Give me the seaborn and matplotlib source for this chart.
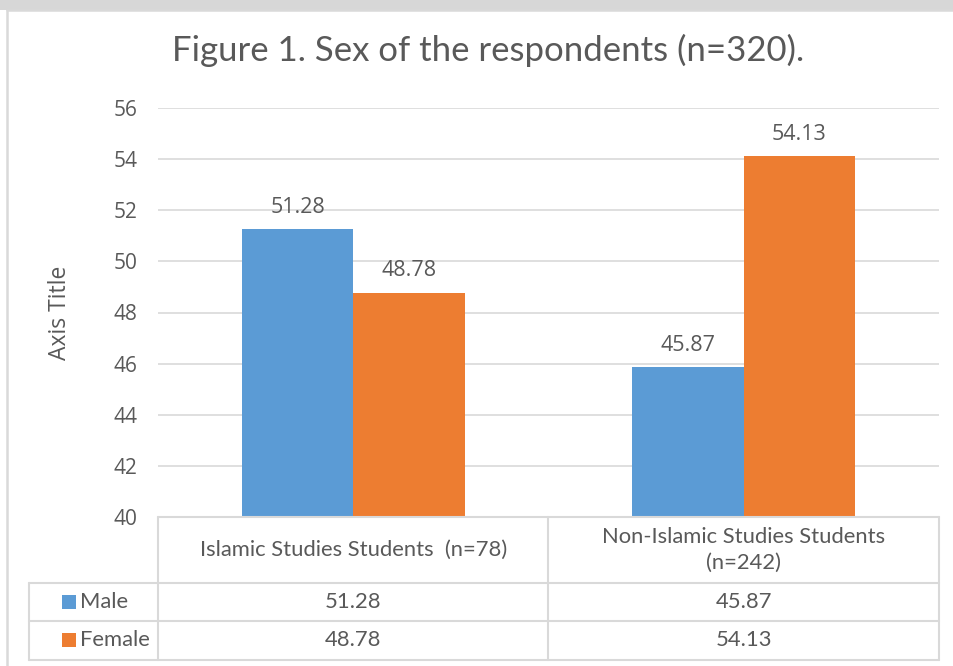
import matplotlib
matplotlib.use("Agg")
import matplotlib.pyplot as plt
import matplotlib.transforms as mtransforms
from matplotlib.patches import Rectangle
from matplotlib.lines import Line2D
import seaborn as sns
import pandas as pd

# ---- data ----
categories = ["Islamic Studies Students  (n=78)", "Non-Islamic Studies Students\n(n=242)"]
series = ["Male", "Female"]
male = [51.28, 45.87]
female = [48.78, 54.13]
colors = ["#5B9BD5", "#ED7D31"]
yticks = [40, 42, 44, 46, 48, 50, 52, 54, 56]
title = "Figure 1. Sex of the respondents (n=320)."
y_label = "Axis Title"

TEXT = "#595959"
GRID = "#d9d9d9"
W, H = 954, 666

sns.set_theme(style="white")
plt.rcParams["font.family"] = ["Open Sans", "DejaVu Sans"]

fig = plt.figure(figsize=(W / 100, H / 100), dpi=100)
fig.patch.set_facecolor("white")


def fx(px):
    return px / W


def fy(py):
    return 1 - py / H


# frame of the chart area and the grey strip above it
fig.add_artist(Rectangle((0, fy(10)), 1, 10 / H, transform=fig.transFigure,
                         facecolor="#d7d7d7", edgecolor="none"))
fig.add_artist(Line2D([fx(7), fx(7)], [fy(10), 0], transform=fig.transFigure,
                      color=GRID, lw=1.8))
fig.add_artist(Line2D([fx(7), 1], [fy(10), fy(10)], transform=fig.transFigure,
                      color=GRID, lw=1.8))

ax = fig.add_axes([fx(158), fy(517), fx(939) - fx(158), (517 - 108) / H])
df = pd.DataFrame({
    "category": categories * 2,
    "series": [series[0]] * len(categories) + [series[1]] * len(categories),
    "value": male + female,
})
sns.barplot(data=df, x="category", y="value", hue="series", hue_order=series,
            palette=colors, saturation=1, width=0.57, linewidth=0,
            legend=False, ax=ax)

ax.set_ylim(yticks[0], yticks[-1])
ax.set_xlim(-0.5, len(categories) - 0.5)
ax.set_yticks(yticks)
ax.set_yticklabels([str(t) for t in yticks])
ax.yaxis.grid(True, color=GRID, lw=1.2)
ax.set_axisbelow(True)
for s in ax.spines.values():
    s.set_visible(False)
ax.tick_params(axis="y", length=0, pad=15, labelsize=15, labelcolor=TEXT)
ax.tick_params(axis="x", length=0, labelbottom=False)
ax.set_xlabel("")
ax.set_ylabel("")

for cont in ax.containers:
    ax.bar_label(cont, fmt="%.2f", padding=8, fontsize=15.5, color=TEXT)

fig.text(fx(60), fy(313), y_label, rotation=90, ha="center", va="center",
         fontsize=16.5, color=TEXT)
fig.text(fx(488), fy(50), title, ha="center", va="center",
         fontsize=25, color=TEXT, family=["Lato", "DejaVu Sans"])

# ---- data table under the axis ----
tr = mtransforms.blended_transform_factory(ax.transData, fig.transFigure)
x_left = -0.5 - (158 - 29) / 390.5
rows_y = [517, 583, 621, 660]
lkw = dict(transform=tr, color=GRID, lw=1.5, clip_on=False)
fig.add_artist(Line2D([-0.5, 1.5], [fy(517), fy(517)], **lkw))
for yy in rows_y[1:]:
    fig.add_artist(Line2D([x_left, 1.5], [fy(yy), fy(yy)], **lkw))
for xx in [-0.5, 0.5, 1.5]:
    fig.add_artist(Line2D([xx, xx], [fy(517), fy(660)], **lkw))
fig.add_artist(Line2D([x_left, x_left], [fy(583), fy(660)], **lkw))

tkw = dict(transform=tr, ha="center", va="center", color=TEXT, fontsize=15.8,
           family=["Lato", "DejaVu Sans"], linespacing=1.35)
for i, cat in enumerate(categories):
    fig.text(i, fy(550), cat, **tkw)
row_mid = [602, 640]
for vals, name, col, ym in zip([male, female], series, colors, row_mid):
    for i, v in enumerate(vals):
        fig.text(i, fy(ym), f"{v:.2f}", **tkw)
    fig.add_artist(Rectangle((fx(62), fy(ym + 7)), 14 / W, 14 / H,
                             transform=fig.transFigure, facecolor=col,
                             edgecolor="none"))
    fig.text(fx(80), fy(ym), name, ha="left", va="center", color=TEXT,
             fontsize=15.8, family=["Lato", "DejaVu Sans"])

fig.savefig("out.png", dpi=100, facecolor="white")
